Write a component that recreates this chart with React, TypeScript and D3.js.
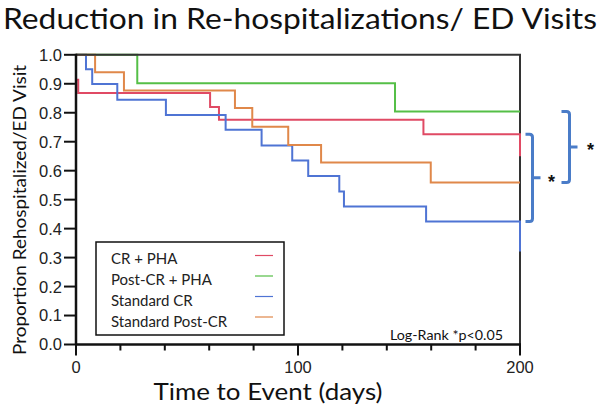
import React from "react";
import * as d3 from "d3";

// Kaplan-Meier style step curves (days, proportion)
const seriesNames = ["CR + PHA", "Post-CR + PHA", "Standard CR", "Standard Post-CR"];
const seriesColors = ["#e04a64", "#55bf47", "#4f74d4", "#e0884a"];

const crPhaTimes = [0, 1, 60.4, 64.4, 156.5, 200];
const crPhaValues = [0.914, 0.868, 0.82, 0.776, 0.726, 0.65];

const postCrPhaTimes = [0, 27.6, 143.7, 200];
const postCrPhaValues = [1.0, 0.902, 0.804, 0.804];

const standardCrTimes = [0, 4.5, 7.3, 18.6, 40.5, 67.4, 83.6, 97.4, 104.6, 118.6, 120.7, 157.7, 200];
const standardCrValues = [1.0, 0.95, 0.899, 0.845, 0.792, 0.741, 0.687, 0.635, 0.582, 0.528, 0.476, 0.425, 0.321];

const standardPostCrTimes = [0, 8.6, 21.6, 71.6, 79.4, 95.6, 110.4, 159.8, 200];
const standardPostCrValues = [1.0, 0.94, 0.877, 0.816, 0.752, 0.689, 0.628, 0.559, 0.559];

const yTicks = [0, 0.1, 0.2, 0.3, 0.4, 0.5, 0.6, 0.7, 0.8, 0.9, 1.0];
const xMinorTicks = [20, 40, 60, 80, 120, 140, 160, 180];
const xMajorTicks = [0, 100, 200];

// bracket ends (values at day 200)
const innerBracket = [0.726, 0.425];
const outerBracket = [0.804, 0.559];

const allTimes = [crPhaTimes, postCrPhaTimes, standardCrTimes, standardPostCrTimes];
const allValues = [crPhaValues, postCrPhaValues, standardCrValues, standardPostCrValues];

const W = 600;
const H = 410;

function bracketPath(x: number, y0: number, y1: number, hook: number, tick: number) {
  const mid = (y0 + y1) / 2;
  const r = 3;
  return (
    `M${x - hook},${y0} L${x - r},${y0} Q${x},${y0} ${x},${y0 + r} ` +
    `L${x},${y1 - r} Q${x},${y1} ${x - r},${y1} L${x - hook},${y1} ` +
    `M${x},${mid} L${x + tick},${mid}`
  );
}

export default function App() {
  const x = d3.scaleLinear().domain([0, 200]).range([76, 520]);
  const y = d3.scaleLinear().domain([0, 1]).range([344.5, 54.8]);

  const line = d3
    .line<[number, number]>()
    .x((d) => x(d[0]))
    .y((d) => y(d[1]))
    .curve(d3.curveStepAfter);

  const sans = "'Liberation Sans', Arial, sans-serif";
  const hum = "Lato, 'Open Sans', sans-serif";
  const bracketColor = "#4a7cc8";

  return (
    <div style={{ position: "absolute", left: 0, top: 0 }}>
      <svg width={W} height={H} style={{ display: "block", background: "#fff" }}>
        <text x={3} y={29} fontFamily={hum} fontSize={29} textLength={594} lengthAdjust="spacingAndGlyphs" fill="#111">
          Reduction in Re-hospitalizations/ ED Visits
        </text>

        {/* legend box */}
        <rect x={96} y={242} width={188} height={93} fill="#fff" stroke="#111" strokeWidth={1.5} />
        {seriesNames.map((name, i) => (
          <g key={name}>
            <text x={111} y={264 + i * 21} fontFamily={hum} fontSize={15} fill="#222">
              {name}
            </text>
            <line x1={255} x2={273} y1={255.5 + i * 20.5} y2={255.5 + i * 20.5} stroke={seriesColors[i]} strokeWidth={1.2} />
          </g>
        ))}

        {/* right frame under the curves so the day-200 drops show */}
        <line x1={520} x2={520} y1={y(1)} y2={y(0)} stroke="#333" strokeWidth={2} />

        {/* curves */}
        {allTimes.map((times, i) => (
          <path
            key={i}
            d={line(times.map((t, j) => [t, allValues[i][j]] as [number, number])) || ""}
            fill="none"
            stroke={seriesColors[i]}
            strokeWidth={2}
          />
        ))}

        {/* frame */}
        <line x1={76} x2={521} y1={y(1)} y2={y(1)} stroke="#333" strokeWidth={2} />
        <line x1={76} x2={76} y1={y(1) - 1} y2={y(0)} stroke="#111" strokeWidth={2.5} />
        <line x1={76} x2={521} y1={y(0)} y2={y(0)} stroke="#111" strokeWidth={2.5} />

        {yTicks.map((t) => (
          <g key={t}>
            <line x1={64} x2={76} y1={y(t)} y2={y(t)} stroke="#111" strokeWidth={2} />
            <text x={62} y={y(t)} dy="0.36em" textAnchor="end" fontFamily={sans} fontSize={16.5} fill="#222">
              {t.toFixed(1)}
            </text>
          </g>
        ))}
        {xMinorTicks.map((t) => (
          <line key={t} x1={x(t)} x2={x(t)} y1={y(0)} y2={y(0) + 6} stroke="#111" strokeWidth={2} />
        ))}
        {xMajorTicks.map((t) => (
          <g key={t}>
            <line x1={x(t)} x2={x(t)} y1={y(0)} y2={y(0) + 11} stroke="#111" strokeWidth={2} />
            <text x={x(t)} y={373} textAnchor="middle" fontFamily={sans} fontSize={16.5} fill="#222">
              {t}
            </text>
          </g>
        ))}

        <text x={268} y={400} textAnchor="middle" fontFamily={hum} fontSize={24} textLength={229} lengthAdjust="spacingAndGlyphs" fill="#111">
          Time to Event (days)
        </text>
        <text
          transform="translate(26,210) rotate(-90)"
          textAnchor="middle"
          fontFamily={hum}
          fontSize={18}
          textLength={290}
          lengthAdjust="spacingAndGlyphs"
          fill="#111"
        >
          Proportion Rehospitalized/ED Visit
        </text>

        <text x={390} y={340} fontFamily={hum} fontSize={13.5} textLength={113} lengthAdjust="spacingAndGlyphs" fill="#111">
          Log-Rank *p&lt;0.05
        </text>

        {/* significance brackets */}
        <path d={bracketPath(532.5, y(innerBracket[0]), y(innerBracket[1]), 7, 8)} fill="none" stroke={bracketColor} strokeWidth={3} />
        <path d={bracketPath(569.5, y(outerBracket[0]), y(outerBracket[1]), 8, 8)} fill="none" stroke={bracketColor} strokeWidth={3} />
        <text x={551.5} y={188} textAnchor="middle" fontFamily={sans} fontWeight="bold" fontSize={18} fill="#111">
          *
        </text>
        <text x={590.5} y={156} textAnchor="middle" fontFamily={sans} fontWeight="bold" fontSize={18} fill="#111">
          *
        </text>
      </svg>
    </div>
  );
}
